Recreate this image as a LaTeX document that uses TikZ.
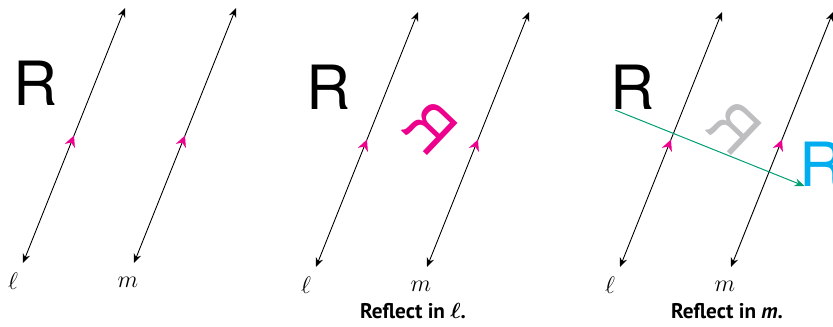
\documentclass[tikz,border=0pt]{standalone}
\usepackage{amsmath}
\usepackage{fontspec}
\newfontfamily\glyphfont{TeX Gyre Heros}
\newfontfamily\capfont{PT Sans}
\usepackage{tikz}
\usetikzlibrary{positioning,arrows.meta,calc,decorations.markings}
\definecolor{flipmag}{RGB}{236,0,140}
\definecolor{slidegreen}{RGB}{0,158,115}
\definecolor{imgblue}{RGB}{0,174,239}
\definecolor{ghostgray}{RGB}{190,190,192}

\begin{document}
\begin{tikzpicture}[
        x=0.5pt, y=0.5pt,
        mirror/.style={{Stealth[length=4.6pt,width=3.8pt]}-{Stealth[length=4.6pt,width=3.8pt]},
                       line width=0.45pt,
                       postaction={decorate, decoration={markings,
                           mark=at position 0.5 with {\arrow{Stealth[length=5.6pt,width=5.4pt,flipmag]}}}}},
        glyph/.style={font=\glyphfont\fontsize{30.5}{36}\selectfont, inner sep=0pt, anchor=base west},
        linelabel/.style={font=\fontsize{12}{14}\selectfont, inner sep=0pt},
        caption/.style={font=\capfont\bfseries\fontsize{10.6}{12}\selectfont, inner sep=0pt, anchor=base},
        slide/.style={-{Stealth[length=5pt,width=4pt]}, slidegreen, line width=0.5pt}
    ]
    \useasboundingbox (0,0) rectangle (833,326);
    \clip (0,0) rectangle (833,326);

    % Lines l and m, the letter R (one panel each)
    \foreach \p/\ox/\oy in {1/23/63, 2/316/59, 3/620/59}{
        \coordinate (lb\p) at (\ox,\oy);
        \coordinate (lt\p) at ($(lb\p)+(102,255)$);
        \coordinate (mb\p) at ($(lb\p)+(111,0)$);
        \coordinate (mt\p) at ($(mb\p)+(102,255)$);
        \draw[mirror] (lb\p) -- (lt\p);
        \draw[mirror] (mb\p) -- (mt\p);
        \node[linelabel] (ell\p) at ($(lb\p)+(-10,-18)$) {$\ell$};
        \node[linelabel] (em\p)  at ($(mb\p)+(-6,-19)$)  {$m$};
        \node[glyph] (R\p) at ($(lb\p)+(-10,157)$) {R};
    }

    % ---- Reflect in l ----
    \begin{scope}[shift={(316,59)}, rotate=68.2, yscale=-1, rotate=-68.2, shift={(-316,-59)}]
        \node[glyph, transform shape, text=flipmag] (Rl2) at (306,216) {R};
    \end{scope}
    \node[caption] (cap2) at (413,8) {Reflect in $\boldsymbol{\ell}$.};

    % ---- Reflect in m ----
    \begin{scope}[shift={(620,59)}, rotate=68.2, yscale=-1, rotate=-68.2, shift={(-620,-59)}]
        \node[glyph, transform shape, text=ghostgray] (Rl3) at (610,216) {R};
    \end{scope}
    \node[glyph, text=imgblue] (Rm3) at ($(R3.base west)+(189.5,-76.1)$) {R};
    \coordinate (gs) at ($(lb3)+(-5,157)$);
    \coordinate (ge) at ($(gs)+(189.5,-76.1)$);
    \draw[slide] (gs) -- (ge);
    \node[caption] (cap3) at (727,8) {Reflect in \textit{m}.};
\end{tikzpicture}
\end{document}
